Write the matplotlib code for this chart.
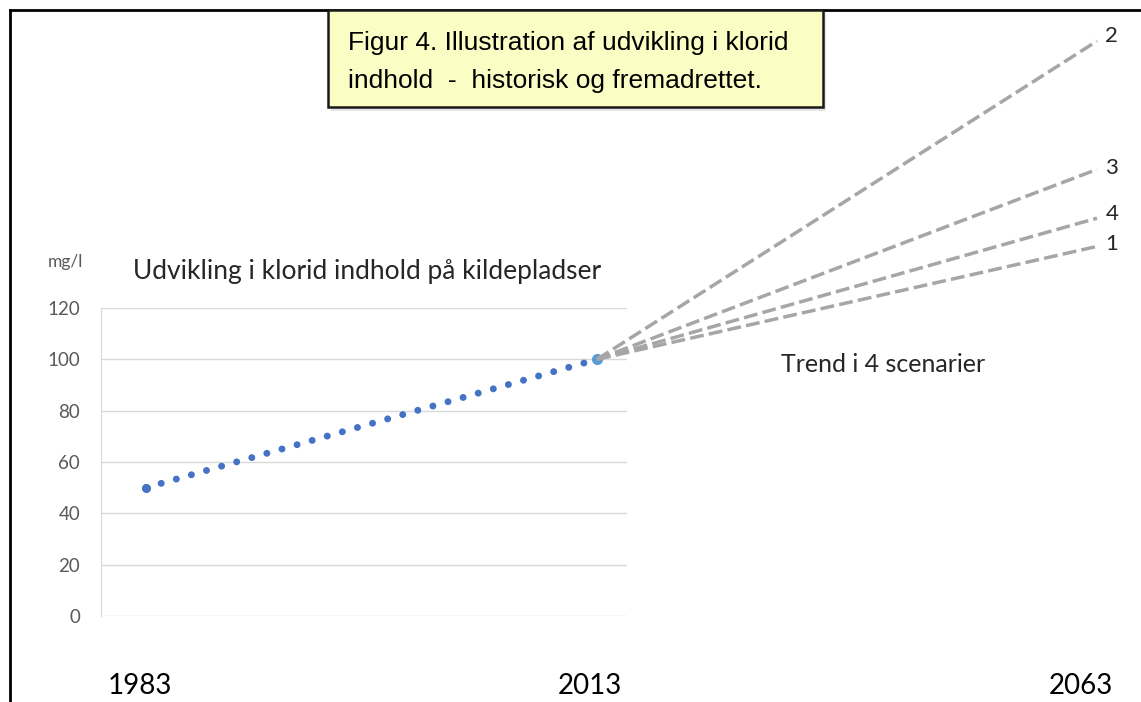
import matplotlib.pyplot as plt
from matplotlib.patches import Rectangle
from matplotlib.lines import Line2D

# historical development (Excel round-dot line from 1983 to 2013)
hist_years = [1983, 2013]
hist_values = [50, 100]

# four scenarios, 2013 -> 2063
scen_years = [2013, 2063]
scen_labels = ['2', '3', '4', '1']
scen_end = [224, 174, 155, 144]

yticks = [0, 20, 40, 60, 80, 100, 120]
year_labels = ['1983', '2013', '2063']

W, H = 1141, 702
fig = plt.figure(figsize=(W / 100, H / 100), dpi=100)
fig.patch.set_facecolor('white')

def fx(px):
    return px / W

def fy(py):
    return 1 - py / H

calibri = ['Lato', 'DejaVu Sans']
arial = ['Liberation Sans', 'DejaVu Sans']

# main chart area
ax = fig.add_axes([fx(101), fy(616), fx(627 - 101), (616 - 308) / H])
ax.set_xlim(1980, 2015)
ax.set_ylim(0, 120)
ax.set_yticks(yticks)
ax.set_xticks([])
ax.grid(axis='y', color='#d9d9d9', lw=1)
ax.set_axisbelow(True)
for s in ['top', 'right', 'bottom']:
    ax.spines[s].set_visible(False)
ax.spines['left'].set_color('#d9d9d9')
ax.tick_params(axis='y', length=0, pad=15, labelcolor='#595959', labelsize=13.5)
for t in ax.get_yticklabels():
    t.set_family(calibri)

ax.plot(hist_years, hist_values, color='#4472c4', lw=5,
        linestyle=(0, (0.01, 2.25)), dash_capstyle='round', clip_on=False)
ax.plot(hist_years[0], hist_values[0], 'o', color='#4472c4', ms=5.5, clip_on=False)
ax.plot(hist_years[-1], hist_values[-1], 'o', color='#5b9bd5', ms=7, clip_on=False, zorder=5)

# scenario overlay (compressed time scale to the right)
ax2 = fig.add_axes([fx(597), fy(616), fx(1097 - 597), 616 / H])
ax2.set_xlim(scen_years[0], scen_years[1])
ax2.set_ylim(0, 240)
ax2.axis('off')
ax2.patch.set_alpha(0)
offsets = {'2': (6, 4), '3': (6, 1), '4': (6, 3), '1': (6, 2)}
for lab, v in zip(scen_labels, scen_end):
    ax2.plot(scen_years, [hist_values[-1], v], color='#a6a6a6', lw=2.5,
             linestyle=(0, (4, 1.5)), clip_on=False)
    ax2.annotate(lab, (scen_years[1], v), xytext=offsets[lab], textcoords='offset points',
                 ha='left', va='center', fontsize=16, color='#262626', family=calibri)

# texts
fig.text(fx(48), fy(262), 'mg/l', fontsize=12.5, color='#595959', va='center', family=calibri)
fig.text(fx(133), fy(272), 'Udvikling i klorid indhold på kildepladser', fontsize=19,
         color='#262626', va='center', family=calibri)
fig.text(fx(781), fy(365), 'Trend i 4 scenarier', fontsize=18, color='#262626',
         va='center', family=calibri)
for lab, px in zip(year_labels, [140, 590, 1081]):
    fig.text(fx(px), fy(686), lab, fontsize=20, color='black', ha='center',
             va='center', family=calibri)

# outer frame (left and top edges)
fig.add_artist(Line2D([fx(9.5), fx(9.5)], [0, fy(10)], color='black', lw=2,
                      transform=fig.transFigure))
fig.add_artist(Line2D([fx(9.5), 1], [fy(10), fy(10)], color='black', lw=2,
                      transform=fig.transFigure))

# title box with a soft shadow
fig.add_artist(Rectangle((fx(331), fy(111)), fx(495), 98 / H, transform=fig.transFigure,
                         facecolor='#e6e6e6', edgecolor='none', zorder=4))
fig.add_artist(Rectangle((fx(328), fy(107)), fx(495), 97 / H, transform=fig.transFigure,
                         facecolor='#fafdc4', edgecolor='#1a1a1a', lw=1.8, zorder=5))
fig.text(fx(348), fy(43), 'Figur 4. Illustration af udvikling i klorid', fontsize=19,
         color='black', va='center', family=arial, zorder=6)
fig.text(fx(348), fy(81), 'indhold  -  historisk og fremadrettet.', fontsize=19,
         color='black', va='center', family=arial, zorder=6)

fig.savefig('out.png', dpi=100)
